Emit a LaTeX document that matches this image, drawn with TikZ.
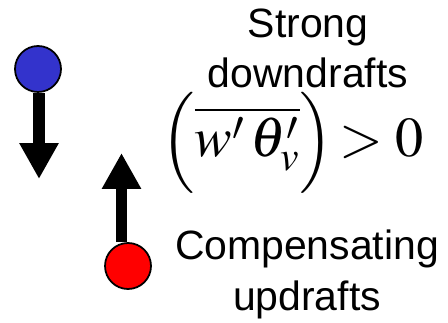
\documentclass[tikz,border=0pt]{standalone}
\usepackage{mathptmx}
\usepackage[no-math]{fontspec}
\setsansfont{Liberation Sans}
\usetikzlibrary{arrows.meta,positioning}
\definecolor{parcelblue}{HTML}{3333CC}
\definecolor{parcelred}{HTML}{FF0000}
\tikzset{
  parcel/.style={circle,draw=black,line width=1pt,minimum size=0.92cm,inner sep=0pt},
  flux/.style={-{Triangle[width=0.74cm,length=0.72cm]},line width=0.23cm,black},
  label/.style={font=\sffamily\fontsize{23.3}{28.5}\selectfont,align=center,inner sep=0pt}
}

\begin{document}
\begin{tikzpicture}[x=0.02cm,y=-0.02cm]
    \useasboundingbox (0,0) rectangle (448,323);
    \node[parcel,fill=parcelblue] (down) at (38,69) {};
    \node[parcel,fill=parcelred] (up) at (128,266) {};
    \coordinate (downtip) at (39,179);
    \coordinate (uptip) at (121.5,153);
    \draw[flux] (down.south -| downtip) -- (downtip);
    \draw[flux] (up.north -| uptip) -- (uptip);
    \node[label,anchor=base] (strong) at (308,88) {Strong\\downdrafts};
    \node[inner sep=0pt,anchor=base west,font=\fontsize{32}{40}\selectfont] (flux) at (161,157)
      {$\Bigl(\overline{w'\,\theta'_v}\Bigr)\!> 0$};
    \node[label,anchor=base] (comp) at (307,310) {Compensating\\updrafts};
\end{tikzpicture}
\end{document}
